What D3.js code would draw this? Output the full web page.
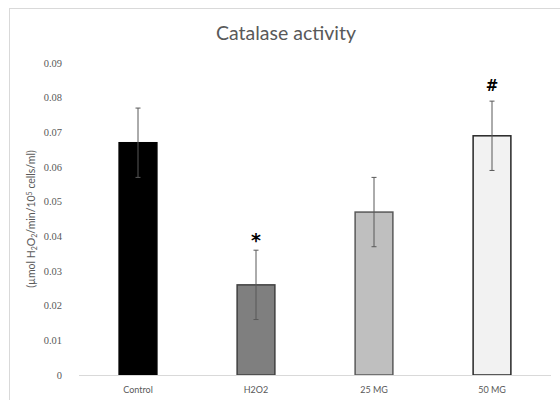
<!DOCTYPE html>
<html>
<head>
  <meta charset="utf-8">
  <title>Catalase activity</title>
  <script src="https://d3js.org/d3.v7.min.js"></script>
  <style>
    html, body {
      margin: 0;
      padding: 0;
      background: #fff;
    }
    svg {
      display: block;
    }
    .cat-label {
      font: 9px Lato, sans-serif;
      fill: #595959;
    }
  </style>
</head>
<body>
  <svg width="560" height="400"></svg>

  <script>
    // data
    const categories = ["Control", "H2O2", "25 MG", "50 MG"];
    const means = [0.067, 0.026, 0.047, 0.069];
    const errors = [0.010, 0.010, 0.010, 0.010];
    const marks = ["", "*", "", "#"];
    const yTicks = [0, 0.01, 0.02, 0.03, 0.04, 0.05, 0.06, 0.07, 0.08, 0.09];
    const fills = ["#000000", "#7f7f7f", "#bfbfbf", "#f2f2f2"];
    const strokes = ["#000000", "#404040", "#595959", "#262626"];

    const svg = d3.select("svg");

    // chart frame
    svg.append("rect")
      .attr("x", 9.5).attr("y", 8.5)
      .attr("width", 560).attr("height", 400)
      .attr("fill", "none")
      .attr("stroke", "#d9d9d9");

    svg.append("text")
      .attr("x", 286).attr("y", 40)
      .attr("text-anchor", "middle")
      .style("font", "19.5px Lato, sans-serif")
      .style("fill", "#595959")
      .text("Catalase activity");

    const x = d3.scaleBand()
      .domain(categories)
      .range([79, 551])
      .paddingInner(0.68)
      .paddingOuter(0.34);

    const y = d3.scaleLinear()
      .domain([0, 0.09])
      .range([375, 63]);

    // y tick labels (no axis line in the original)
    svg.selectAll(".tick-label")
      .data(yTicks)
      .enter().append("text")
      .attr("class", "tick-label")
      .attr("x", 62)
      .attr("y", d => y(d))
      .attr("dy", "0.35em")
      .attr("text-anchor", "end")
      .attr("font-family", "Times New Roman, Liberation Serif, serif")
      .attr("font-size", 10.5)
      .attr("fill", "#595959")
      .text(d => d === 0 ? "0" : d3.format(".2f")(d));

    // y axis title with sub/superscripts
    const yTitle = svg.append("text")
      .attr("transform", "translate(35," + ((y(0) + y(0.09)) / 2) + ") rotate(-90)")
      .attr("text-anchor", "middle")
      .style("font", "10.5px Lato, sans-serif")
      .style("fill", "#595959");
    yTitle.append("tspan").text("(µmol H");
    yTitle.append("tspan").attr("dy", 2).style("font-size", "7px").text("2");
    yTitle.append("tspan").attr("dy", -2).text("O");
    yTitle.append("tspan").attr("dy", 2).style("font-size", "7px").text("2");
    yTitle.append("tspan").attr("dy", -2).text("/min/10");
    yTitle.append("tspan").attr("dy", -3).style("font-size", "7px").text("5");
    yTitle.append("tspan").attr("dy", 3).text(" cells/ml)");

    const rows = categories.map((c, i) => ({
      cat: c, value: means[i], err: errors[i], mark: marks[i],
      fill: fills[i], stroke: strokes[i]
    }));

    // bars
    svg.selectAll(".bar")
      .data(rows)
      .enter().append("rect")
      .attr("class", "bar")
      .attr("x", d => x(d.cat))
      .attr("y", d => y(d.value))
      .attr("width", x.bandwidth())
      .attr("height", d => y(0) - y(d.value))
      .attr("fill", d => d.fill)
      .attr("stroke", d => d.stroke)
      .attr("stroke-width", 1.5);

    // baseline
    svg.append("line")
      .attr("x1", 79).attr("x2", 551)
      .attr("y1", y(0) + 0.5).attr("y2", y(0) + 0.5)
      .attr("stroke", "#d9d9d9");

    // error bars
    const eb = svg.selectAll(".err")
      .data(rows)
      .enter().append("g")
      .attr("class", "err")
      .attr("stroke", "#595959")
      .attr("stroke-width", 1);
    eb.append("line")
      .attr("x1", d => x(d.cat) + x.bandwidth() / 2)
      .attr("x2", d => x(d.cat) + x.bandwidth() / 2)
      .attr("y1", d => y(d.value + d.err))
      .attr("y2", d => y(d.value - d.err));
    eb.append("line")
      .attr("x1", d => x(d.cat) + x.bandwidth() / 2 - 2.5)
      .attr("x2", d => x(d.cat) + x.bandwidth() / 2 + 2.5)
      .attr("y1", d => y(d.value + d.err))
      .attr("y2", d => y(d.value + d.err));
    eb.append("line")
      .attr("x1", d => x(d.cat) + x.bandwidth() / 2 - 2.5)
      .attr("x2", d => x(d.cat) + x.bandwidth() / 2 + 2.5)
      .attr("y1", d => y(d.value - d.err))
      .attr("y2", d => y(d.value - d.err));

    // significance marks
    svg.selectAll(".mark")
      .data(rows.filter(d => d.mark))
      .enter().append("text")
      .attr("class", "mark")
      .attr("x", d => x(d.cat) + x.bandwidth() / 2)
      .attr("y", d => y(d.value + d.err) - (d.mark === "*" ? 3 : 10))
      .attr("text-anchor", "middle")
      .style("font", d => d.mark === "*" ? "bold 19px 'DejaVu Sans', sans-serif" : "bold 15px 'DejaVu Sans', sans-serif")
      .style("fill", "#000")
      .text(d => d.mark);

    // category labels
    svg.selectAll(".cat-label")
      .data(categories)
      .enter().append("text")
      .attr("class", "cat-label")
      .attr("x", d => x(d) + x.bandwidth() / 2)
      .attr("y", 393)
      .attr("text-anchor", "middle")
      .text(d => d);
  </script>
</body>
</html>
